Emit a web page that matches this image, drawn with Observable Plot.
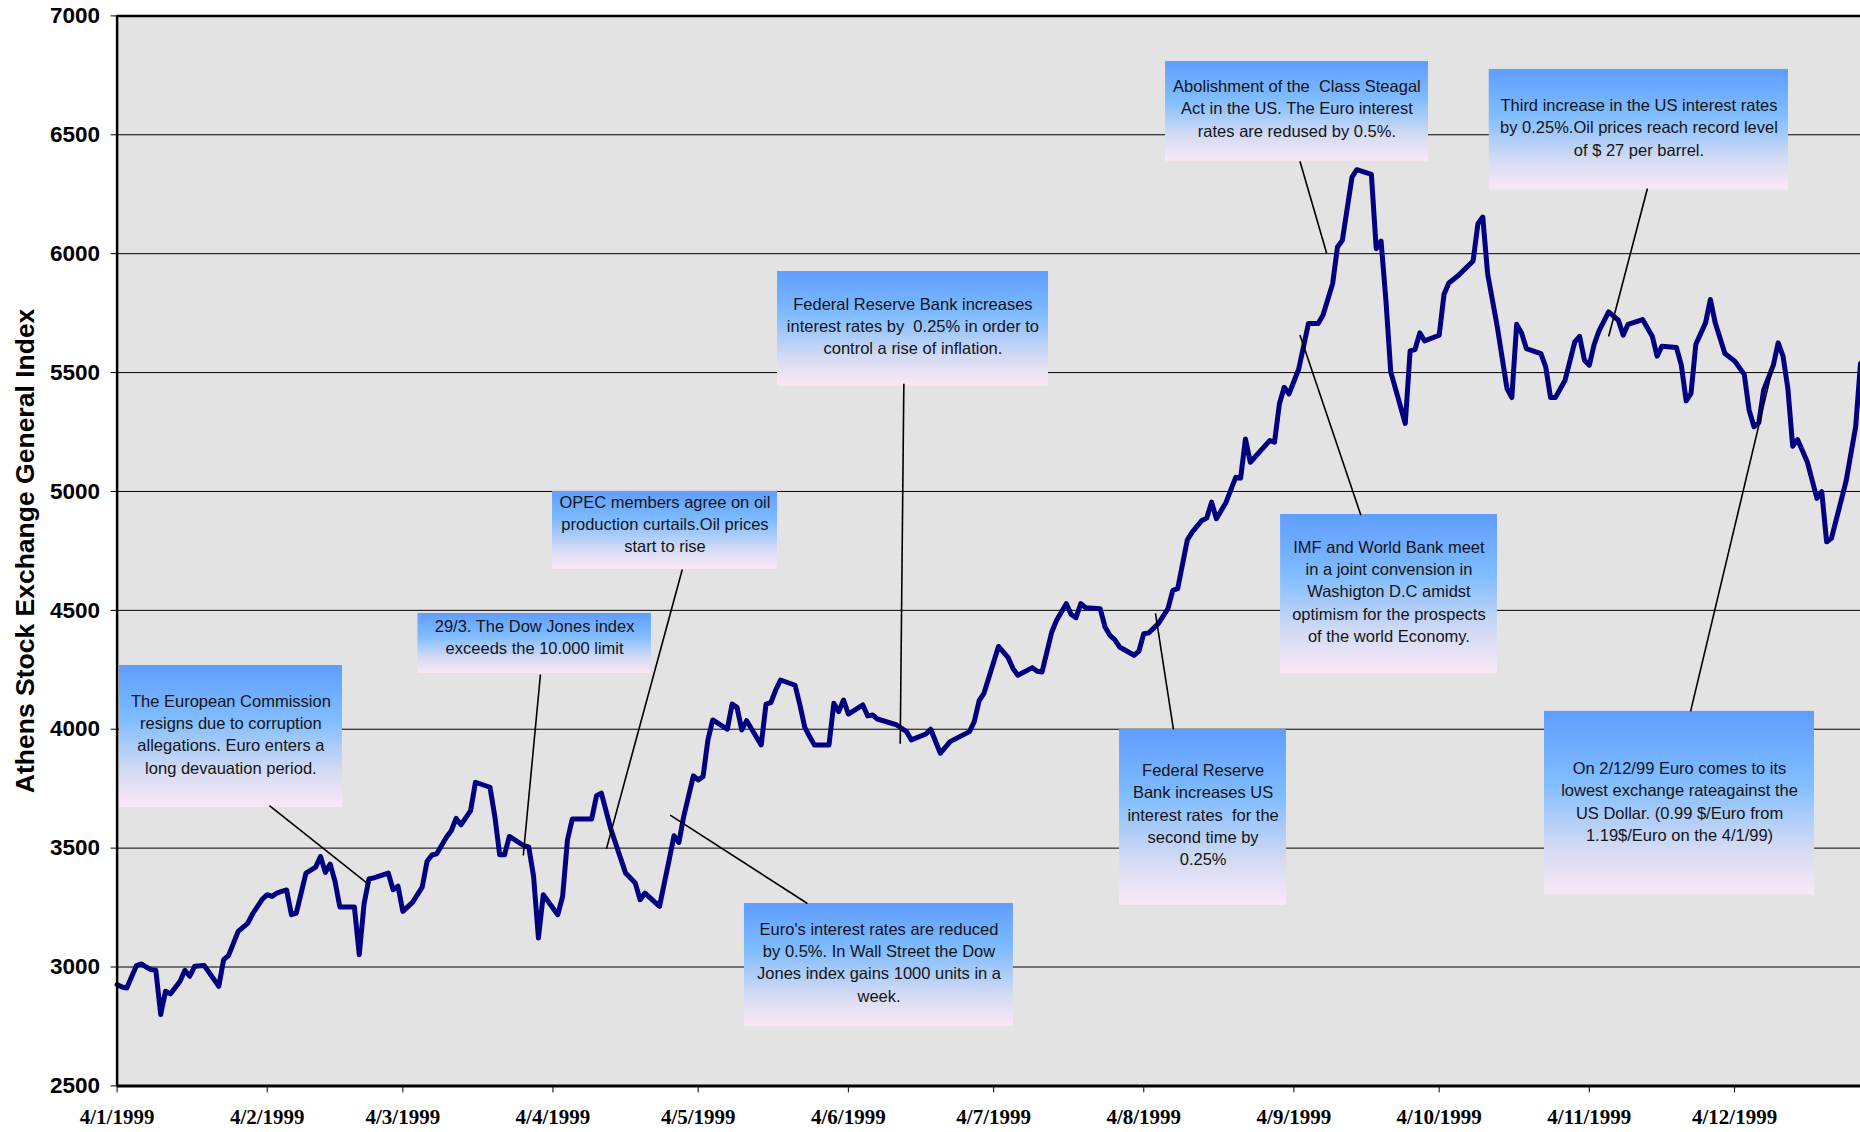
<!DOCTYPE html>
<html>
<head>
<meta charset="utf-8">
<script src="https://cdn.jsdelivr.net/npm/d3@7"></script>
<script src="https://cdn.jsdelivr.net/npm/@observablehq/plot@0.6"></script>
<style>
  html, body { margin: 0; padding: 0; background: #ffffff; }
  #chart svg text { white-space: pre; }
</style>
</head>
<body>
<div id="chart"></div>
<script>
// ---- Data: Athens Stock Exchange General Index, 1999 ----
const tradingDates = [
  "1999-01-04","1999-01-05","1999-01-06","1999-01-08","1999-01-09","1999-01-10","1999-01-11","1999-01-12","1999-01-13","1999-01-14","1999-01-15","1999-01-17","1999-01-18","1999-01-19","1999-01-20","1999-01-22","1999-01-25","1999-01-26","1999-01-27","1999-01-29","1999-01-31",
  "1999-02-01","1999-02-03","1999-02-04","1999-02-05","1999-02-06","1999-02-07","1999-02-08","1999-02-09","1999-02-10","1999-02-11","1999-02-12","1999-02-14","1999-02-15","1999-02-16","1999-02-17","1999-02-18","1999-02-19","1999-02-22","1999-02-23","1999-02-24","1999-02-25","1999-02-26",
  "1999-03-01","1999-03-02","1999-03-03","1999-03-04","1999-03-06","1999-03-08","1999-03-09","1999-03-10","1999-03-11","1999-03-13","1999-03-14","1999-03-15","1999-03-16","1999-03-18","1999-03-19","1999-03-22","1999-03-23","1999-03-24","1999-03-25","1999-03-26","1999-03-29","1999-03-30","1999-03-31",
  "1999-04-01","1999-04-02","1999-04-05","1999-04-06","1999-04-07","1999-04-08","1999-04-12","1999-04-13","1999-04-14","1999-04-16","1999-04-19","1999-04-21","1999-04-22","1999-04-23","1999-04-26","1999-04-28","1999-04-29","1999-04-30",
  "1999-05-01","1999-05-03","1999-05-04","1999-05-05","1999-05-06","1999-05-07","1999-05-10","1999-05-11","1999-05-12","1999-05-13","1999-05-14","1999-05-17","1999-05-18","1999-05-19","1999-05-20","1999-05-21","1999-05-24","1999-05-25","1999-05-26","1999-05-27","1999-05-28","1999-05-31",
  "1999-06-01","1999-06-02","1999-06-03","1999-06-04","1999-06-07","1999-06-08","1999-06-09","1999-06-10","1999-06-14","1999-06-16","1999-06-17","1999-06-20","1999-06-21","1999-06-23","1999-06-25","1999-06-29","1999-06-30",
  "1999-07-01","1999-07-02","1999-07-05","1999-07-07","1999-07-08","1999-07-09","1999-07-12","1999-07-13","1999-07-14","1999-07-16","1999-07-17","1999-07-19","1999-07-20","1999-07-21","1999-07-22","1999-07-23","1999-07-26","1999-07-27","1999-07-28","1999-07-29","1999-07-30",
  "1999-08-02","1999-08-03","1999-08-04","1999-08-05","1999-08-07","1999-08-09","1999-08-10","1999-08-11","1999-08-13","1999-08-14","1999-08-16","1999-08-17","1999-08-18","1999-08-19","1999-08-21","1999-08-23","1999-08-24","1999-08-25","1999-08-26","1999-08-30","1999-08-31",
  "1999-09-01","1999-09-02","1999-09-03","1999-09-05","1999-09-07","1999-09-09","1999-09-10","1999-09-12","1999-09-13","1999-09-14","1999-09-16","1999-09-17","1999-09-20","1999-09-21","1999-09-22","1999-09-23","1999-09-24","1999-09-27","1999-09-28","1999-09-29","1999-09-30",
  "1999-10-01","1999-10-04","1999-10-05","1999-10-06","1999-10-08","1999-10-11","1999-10-12","1999-10-13","1999-10-14","1999-10-16","1999-10-18","1999-10-19","1999-10-20","1999-10-21","1999-10-22","1999-10-25","1999-10-26","1999-10-27","1999-10-28","1999-10-30",
  "1999-11-01","1999-11-02","1999-11-03","1999-11-04","1999-11-05","1999-11-06","1999-11-08","1999-11-10","1999-11-11","1999-11-12","1999-11-15","1999-11-17","1999-11-18","1999-11-19","1999-11-22","1999-11-23","1999-11-24","1999-11-25","1999-11-26","1999-11-28","1999-11-29","1999-11-30",
  "1999-12-02","1999-12-04","1999-12-06","1999-12-07","1999-12-08","1999-12-09","1999-12-10","1999-12-12","1999-12-13","1999-12-14","1999-12-15","1999-12-16","1999-12-17","1999-12-19","1999-12-21","1999-12-22","1999-12-23","1999-12-24","1999-12-27","1999-12-29","1999-12-30"
];
const indexValues = [
  2926,2916,2912,3006,3013,3000,2989,2986,2800,2898,2887,2940,2986,2961,3003,3006,2919,3031,3048,3150,3185,
  3224,3286,3304,3297,3311,3318,3324,3220,3227,3311,3395,3420,3465,3398,3433,3360,3252,3252,3052,3266,3370,3375,
  3395,3325,3340,3234,3272,3336,3444,3471,3476,3546,3573,3625,3598,3658,3777,3756,3633,3472,3472,3549,3510,3505,3381,
  3122,3304,3220,3297,3535,3623,3623,3720,3731,3577,3395,3353,3283,3311,3255,3451,3552,3524,
  3633,3804,3787,3801,3955,4039,4000,4106,4092,3997,4036,3934,4106,4112,4165,4207,4185,4102,4008,3969,3934,3934,
  4109,4074,4123,4064,4102,4056,4060,4043,4018,3990,3955,3980,4000,3899,3948,3990,4032,
  4120,4151,4348,4301,4255,4227,4259,4244,4241,4409,4458,4528,4483,4469,4528,4511,4507,4430,4395,4377,4346,
  4311,4329,4402,4405,4444,4507,4584,4591,4797,4829,4878,4888,4955,4885,4955,5060,5056,5221,5123,5214,5207,
  5368,5438,5410,5515,5706,5706,5741,5874,6028,6056,6322,6353,6333,6021,6053,5804,5503,5286,5591,5597,5667,
  5633,5657,5829,5877,5909,5969,6126,6154,5916,5692,5433,5395,5703,5667,5601,5580,5524,5395,5395,5468,
  5629,5652,5552,5531,5618,5675,5755,5720,5657,5703,5723,5653,5569,5611,5605,5531,5381,5412,5619,5709,5807,5709,
  5580,5549,5492,5342,5272,5289,5426,5531,5625,5569,5433,5190,5218,5125,4971,4999,4788,4803,5041,5272,5538
];

// ---- Axis ticks ----
const monthTicks = ["1999-01-04","1999-02-04","1999-03-04","1999-04-04","1999-05-04","1999-06-04",
                    "1999-07-04","1999-08-04","1999-09-04","1999-10-04","1999-11-04","1999-12-04"];
const yTicks = [2500, 3000, 3500, 4000, 4500, 5000, 5500, 6000, 6500, 7000];
const xDomain = ["1999-01-04", "1999-12-30"];
const yDomain = [2500, 7000];
const yLabel = "Athens Stock Exchange General Index";

// ---- Event annotations (anchored in data units: date / index level) ----
const annLabels = [
  "The European Commission\nresigns due to corruption\nallegations. Euro enters a\nlong devauation period.",
  "29/3. The Dow Jones index\nexceeds the 10.000 limit",
  "OPEC members agree on oil\nproduction curtails.Oil prices\nstart to rise",
  "Euro's interest rates are reduced\nby 0.5%. In Wall Street the Dow\nJones index gains 1000 units in a\nweek.",
  "Federal Reserve Bank increases\ninterest rates by  0.25% in order to\ncontrol a rise of inflation.",
  "Federal Reserve\nBank increases US\ninterest rates  for the\nsecond time by\n0.25%",
  "Abolishment of the  Class Steagal\nAct in the US. The Euro interest\nrates are redused by 0.5%.",
  "IMF and World Bank meet\nin a joint convension in\nWashigton D.C amidst\noptimism for the prospects\nof the world Economy.",
  "Third increase in the US interest rates\nby 0.25%.Oil prices reach record level\nof $ 27 per barrel.",
  "On 2/12/99 Euro comes to its\nlowest exchange rateagainst the\nUS Dollar. (0.99 $/Euro from\n1.19$/Euro on the 4/1/99)"
];
// box: [from date, to date, low level, high level]
const annBoxes = [
  ["1999-01-04 12:00","1999-02-19 13:00",3671,4268],
  ["1999-03-07 03:00","1999-04-24 08:00",4234,4487],
  ["1999-04-03 22:00","1999-05-20 09:00",4672,5000],
  ["1999-05-13 13:00","1999-07-08 02:00",2750,3267],
  ["1999-05-20 09:00","1999-07-15 08:00",5443,5925],
  ["1999-07-30 00:00","1999-09-02 11:00",3259,3999],
  ["1999-08-08 12:00","1999-10-01 19:00",6389,6808],
  ["1999-09-01 06:00","1999-10-16 01:00",4233,4903],
  ["1999-10-14 08:00","1999-12-15 03:00",6268,6775],
  ["1999-10-25 18:00","1999-12-20 12:00",3303,4075]
];
// text centre: [date, level]
const annTextAt = [
  ["1999-01-27 12:00",3984],["1999-03-31 05:00",4392],["1999-04-27 03:00",4867],
  ["1999-06-10 08:00",3025],["1999-06-17 08:00",5701],["1999-08-16 06:00",3646],
  ["1999-09-04 15:00",6616],["1999-09-23 15:00",4585],["1999-11-14 06:00",6536],
  ["1999-11-22 15:00",3701]
];
// leader line: [from date, from level, to date, to level]
const annLeaders = [
  ["1999-02-04 11:00",3679,"1999-02-25 00:00",3347],
  ["1999-04-01 10:00",4230,"1999-03-28 21:00",3469],
  ["1999-04-30 17:00",4672,"1999-04-15 01:00",3497],
  ["1999-05-26 13:00",3267,"1999-04-28 05:00",3639],
  ["1999-06-15 11:00",5453,"1999-06-14 17:00",3939],
  ["1999-08-10 03:00",3999,"1999-08-06 10:00",4487],
  ["1999-09-05 06:00",6389,"1999-09-10 18:00",6003],
  ["1999-09-17 20:00",4900,"1999-09-05 06:00",5658],
  ["1999-11-16 00:00",6274,"1999-11-08 00:00",5652],
  ["1999-11-24 22:00",4075,"1999-12-11 23:00",5530]
];

// ---- Build ----
const parseDay = d3.utcParse("%Y-%m-%d");
const parseTime = d3.utcParse("%Y-%m-%d %H:%M");

const series = tradingDates.map((d, i) => ({date: parseDay(d), value: indexValues[i]}));
const notes = annLabels.map((label, i) => ({
  label,
  x1: parseTime(annBoxes[i][0]), x2: parseTime(annBoxes[i][1]),
  y1: annBoxes[i][2], y2: annBoxes[i][3],
  tx: parseTime(annTextAt[i][0]), ty: annTextAt[i][1],
  lx1: parseTime(annLeaders[i][0]), ly1: annLeaders[i][1],
  lx2: parseTime(annLeaders[i][2]), ly2: annLeaders[i][3]
}));
const xStart = parseDay(xDomain[0]);

const chart = Plot.plot({
  width: 1860,
  height: 1132,
  marginLeft: 116.6,
  marginRight: 0,
  marginTop: 15.4,
  marginBottom: 46.6,
  style: {background: "#ffffff", overflow: "visible"},
  x: {type: "utc", domain: xDomain.map(parseDay)},
  y: {domain: yDomain},
  marks: [
    Plot.frame({fill: "#e3e3e3", stroke: "none"}),
    Plot.gridY(yTicks.slice(1, -1), {stroke: "#000", strokeOpacity: 1, strokeWidth: 1}),
    Plot.ruleY([yDomain[1]], {stroke: "#000", strokeWidth: 2.5}),
    Plot.line(series, {x: "date", y: "value", stroke: "#000080", strokeWidth: 5, strokeLinejoin: "round", strokeLinecap: "round"}),
    Plot.rect(notes, {x1: "x1", x2: "x2", y1: "y1", y2: "y2", fill: "url(#noteGradient)"}),
    Plot.link(notes, {x1: "lx1", y1: "ly1", x2: "lx2", y2: "ly2", stroke: "#000", strokeWidth: 1.6}),
    Plot.text(notes, {x: "tx", y: "ty", text: "label", fontSize: 16.5, lineHeight: 1.35,
      fontFamily: "'Liberation Sans', Arial, sans-serif", fill: "#141414", lineAnchor: "middle", textAnchor: "middle"}),
    Plot.axisY({ticks: yTicks, tickFormat: d => String(d), tickSize: 6, tickPadding: 11, fontSize: 22.5, fontWeight: "bold",
      fontFamily: "'Liberation Sans', Arial, sans-serif", label: null, stroke: "#000"}),
    Plot.ruleX([xStart], {stroke: "#000", strokeWidth: 2.5}),
    Plot.axisX({ticks: monthTicks.map(parseDay), tickFormat: d3.utcFormat("%-d/%-m/%Y"), tickSize: 7, tickPadding: 16.5,
      fontSize: 21, fontWeight: "bold", fontFamily: "'Liberation Serif', 'Times New Roman', serif", label: null, stroke: "#000"}),
    Plot.ruleY([yDomain[0]], {stroke: "#000", strokeWidth: 3}),
    Plot.text([yLabel], {text: d => d, frameAnchor: "left", dx: -92, rotate: -90, fontSize: 26.5, fontWeight: "bold",
      fontFamily: "'Liberation Sans', Arial, sans-serif", fill: "#000", textAnchor: "middle", lineAnchor: "middle"})
  ]
});

const svgNS = "http://www.w3.org/2000/svg";
const defs = document.createElementNS(svgNS, "defs");
defs.innerHTML =
  '<linearGradient id="noteGradient" x1="0" y1="0" x2="0" y2="1">' +
  '<stop offset="0" stop-color="#5f9dff"/>' +
  '<stop offset="0.38" stop-color="#7fbcff"/>' +
  '<stop offset="0.75" stop-color="#d4dbf3"/>' +
  '<stop offset="1" stop-color="#fbe8f7"/>' +
  '</linearGradient>';
chart.insertBefore(defs, chart.firstChild);
document.getElementById("chart").appendChild(chart);
</script>
</body>
</html>
